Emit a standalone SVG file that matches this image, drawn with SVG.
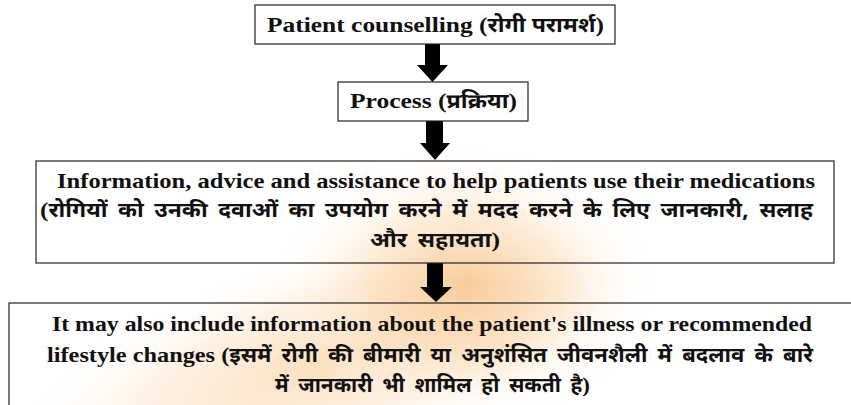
<svg xmlns="http://www.w3.org/2000/svg" width="851" height="405" viewBox="0 0 851 405">
<defs>
<radialGradient id="glow1" cx="0.5" cy="0.5" r="0.5">
<stop offset="0" stop-color="#f7c28a" stop-opacity="0.8"/>
<stop offset="0.5" stop-color="#fbd8b0" stop-opacity="0.5"/>
<stop offset="1" stop-color="#ffffff" stop-opacity="0"/>
</radialGradient>
<radialGradient id="glow2" cx="0.5" cy="0.5" r="0.5">
<stop offset="0" stop-color="#fbd3a6" stop-opacity="0.75"/>
<stop offset="0.6" stop-color="#fde3c6" stop-opacity="0.45"/>
<stop offset="1" stop-color="#ffffff" stop-opacity="0"/>
</radialGradient>
<style>
.box{fill:none;stroke:#222;stroke-width:1.2}
.arrow{fill:#000}
.en{font-family:"Liberation Serif","DejaVu Serif",serif;font-weight:bold;fill:#111}
.hi{font-family:"Noto Sans Devanagari","Lohit Devanagari","Noto Sans","Noto Sans CJK SC",sans-serif;font-weight:bold;fill:#111}
</style>
</defs>
<rect width="851" height="405" fill="#ffffff"/>
<g id="background">
<ellipse cx="330" cy="360" rx="340" ry="110" fill="url(#glow2)" transform="rotate(-18 330 360)"/>
<ellipse cx="465" cy="285" rx="190" ry="140" fill="url(#glow1)"/>
</g>
<g id="connectors">
<polygon class="arrow" points="425,44 440,44 440,65 448,65 432.5,82 417,65 425,65"/>
<polygon class="arrow" points="426,121 443,121 443,143 450,143 435,160 420,143 426,143"/>
<polygon class="arrow" points="427,263 443,263 443,287 452,287 436,302 420,287 427,287"/>
</g>
<g id="node1">
<rect class="box" x="255" y="5" width="360" height="39"/>
<text x="267" y="32" font-size="22" textLength="337" lengthAdjust="spacingAndGlyphs"><tspan class="en">Patient counselling (</tspan><tspan class="hi" font-size="20">रोगी  परामर्श</tspan><tspan class="en">)</tspan></text>
</g>
<g id="node2">
<rect class="box" x="338" y="82" width="190" height="39"/>
<text x="350" y="108" font-size="22" textLength="167" lengthAdjust="spacingAndGlyphs"><tspan class="en">Process (</tspan><tspan class="hi" font-size="20">प्रक्रिया</tspan><tspan class="en">)</tspan></text>
</g>
<g id="node3">
<rect class="box" x="36" y="161" width="798" height="102"/>
<text class="en" x="57" y="188" font-size="22" textLength="758" lengthAdjust="spacingAndGlyphs">Information, advice and assistance to help patients use their medications</text>
<text x="40" y="217" textLength="773" lengthAdjust="spacingAndGlyphs"><tspan class="en" font-size="22">(</tspan><tspan class="hi" font-size="20" word-spacing="4">रोगियों को उनकी दवाओं का उपयोग करने में मदद करने के लिए जानकारी, सलाह</tspan></text>
<text x="370" y="247" textLength="130" lengthAdjust="spacingAndGlyphs"><tspan class="hi" font-size="20" word-spacing="4">और सहायता</tspan><tspan class="en" font-size="22">)</tspan></text>
</g>
<g id="node4">
<rect class="box" x="9" y="303" width="860" height="120"/>
<text class="en" x="52" y="331" font-size="22" textLength="760" lengthAdjust="spacingAndGlyphs">It may also include information about the patient's illness or recommended</text>
<text x="47" y="362" textLength="766" lengthAdjust="spacingAndGlyphs"><tspan class="en" font-size="22">lifestyle changes (</tspan><tspan class="hi" font-size="20" word-spacing="4">इसमें रोगी की बीमारी या अनुशंसित जीवनशैली में बदलाव के बारे</tspan></text>
<text x="275" y="392" textLength="315" lengthAdjust="spacingAndGlyphs"><tspan class="hi" font-size="20" word-spacing="4">में जानकारी भी शामिल हो सकती है</tspan><tspan class="en" font-size="22">)</tspan></text>
</g>
</svg>
